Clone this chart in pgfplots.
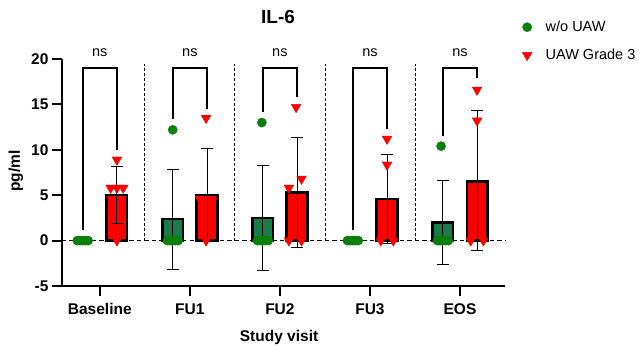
\documentclass[border=0pt]{standalone}
\usepackage{pgfplots}
\pgfplotsset{compat=1.18}
\usepackage{fontspec}
\setmainfont{Liberation Sans}
\definecolor{gpt}{RGB}{10,128,10}
\definecolor{gbar}{RGB}{24,125,72}
\definecolor{rr}{RGB}{255,0,0}
\begin{document}
\begin{tikzpicture}
\path[use as bounding box] (-62pt,-61pt) rectangle (578pt,286pt);
\begin{axis}[
  scale only axis, width=443pt, height=227pt,
  xmin=-0.42, xmax=4.5, ymin=-5, ymax=20,
  axis lines=left, axis line style={-, line width=2pt},
  clip=false,
  xtick={0,1,2,3,4}, xticklabels={Baseline,FU1,FU2,FU3,EOS},
  ytick={-5,0,5,10,15,20},
  tick align=outside, major tick length=10pt,
  tick style={line width=2pt, black},
  /pgf/number format/assume math mode=true,
  ticklabel style={font=\fontsize{15.5}{17}\selectfont\bfseries},
  xticklabel style={yshift=-4pt},
  legend style={at={(axis description cs:1.03,1.185)}, anchor=north west, draw=none, fill=none,
     font=\fontsize{14.5}{16}\selectfont, row sep=12pt, legend cell align=left},
  legend image code/.code={\path[draw=none,fill=none] (0cm,0cm) -- (0.78cm,0cm); \draw[#1] plot coordinates {(0.2cm,0cm)};},
]
% zero line and separators
\draw[dashed, line width=1.4pt, dash pattern=on 4.5pt off 3pt] (axis cs:-0.42,0) -- (axis cs:4.5,0);
\foreach \s in {0.5,1.5,2.5,3.5}{
  \edef\tmp{\noexpand\draw[dashed, line width=0.8pt, dash pattern=on 3pt off 2pt] (axis cs:\s,0) -- (axis cs:\s,19.5);}\tmp
}
% bars
\addplot[ybar, bar width=0.23, bar shift=0pt, fill=gbar, draw=black, line width=2.4pt, forget plot]
  coordinates {(0.81,2.35) (1.81,2.5) (3.81,2.0)};
\addplot[ybar, bar width=0.23, bar shift=0pt, fill=rr, draw=black, line width=2.4pt, forget plot]
  coordinates {(0.19,5.0) (1.19,5.0) (2.19,5.3) (3.19,4.6) (4.19,6.5)};
% error bars
\addplot[draw=none, mark=none, forget plot,
  error bars/.cd, y dir=both, y explicit,
  error bar style={line width=0.9pt, black},
  error mark options={rotate=90, black, mark size=6pt, line width=0.9pt}]
  coordinates {(0.81,2.35) +- (0,5.5) (1.81,2.5) +- (0,5.8) (3.81,2.0) +- (0,4.6)
               (0.19,5.0) +- (0,3.15) (1.19,5.0) +- (0,5.1) (2.19,5.3) +- (0,6.05)
               (3.19,4.6) +- (0,4.9) (4.19,6.6) +- (0,7.7)};
% points
\addplot[only marks, mark=*, mark size=4.6pt, color=gpt, forget plot]
  coordinates {(-0.25,0) (-0.22,0) (-0.19,0) (-0.16,0) (-0.13,0)
               (0.81,12.2) (0.75,0) (0.78,0) (0.81,0) (0.84,0) (0.87,0)
               (1.80,13.0) (1.75,0) (1.78,0) (1.81,0) (1.84,0) (1.87,0)
               (2.75,0) (2.78,0) (2.81,0) (2.84,0) (2.87,0)
               (3.79,10.4) (3.75,0) (3.78,0) (3.81,0) (3.84,0) (3.87,0)};
\addplot[only marks, mark=triangle*, mark options={rotate=180}, mark size=5.6pt, color=rr, forget plot]
  coordinates {(0.19,8.9) (0.12,5.8) (0.19,5.8) (0.26,5.8) (0.19,0)
               (1.18,13.5) (1.11,4.6) (1.25,4.4) (1.18,0)
               (2.18,14.7) (2.24,6.8) (2.10,5.8) (2.10,0) (2.24,0)
               (3.19,11.2) (3.19,8.35) (3.12,0) (3.26,0)
               (4.19,16.6) (4.19,13.2) (4.12,0) (4.26,0)};
% brackets
\draw[line width=2pt] (axis cs:-0.19,1.2) |- (axis cs:0.19,19.0) -- (axis cs:0.19,10.0);
\draw[line width=2pt] (axis cs:0.81,13.4) |- (axis cs:1.19,19.0) -- (axis cs:1.19,14.5);
\draw[line width=2pt] (axis cs:1.81,14.2) |- (axis cs:2.19,19.0) -- (axis cs:2.19,15.8);
\draw[line width=2pt] (axis cs:2.81,1.2) |- (axis cs:3.19,19.0) -- (axis cs:3.19,12.3);
\draw[line width=2pt] (axis cs:3.81,11.5) |- (axis cs:4.19,19.0) -- (axis cs:4.19,17.9);
\foreach \i in {0,1,2,3,4}{
  \edef\tmp{\noexpand\node[font=\noexpand\fontsize{14.5}{16}\noexpand\selectfont] at (axis cs:\i,20.7) {ns};}\tmp
}
\node[font=\fontsize{19}{22}\selectfont\bfseries] at (axis cs:1.98,24.6) {IL-6};
\node[font=\fontsize{15.5}{18}\selectfont\bfseries] at (axis description cs:0.49,-0.226) {Study visit};
\node[font=\fontsize{15.5}{18}\selectfont\bfseries, rotate=90] at (axis description cs:-0.104,0.507) {pg/ml};
% legend
\addlegendimage{only marks, mark=*, mark size=4.6pt, color=gpt}
\addlegendentry{w/o UAW}
\addlegendimage{only marks, mark=triangle*, mark options={rotate=180}, mark size=5.6pt, color=rr}
\addlegendentry{UAW Grade 3}
\end{axis}
\end{tikzpicture}
\end{document}
